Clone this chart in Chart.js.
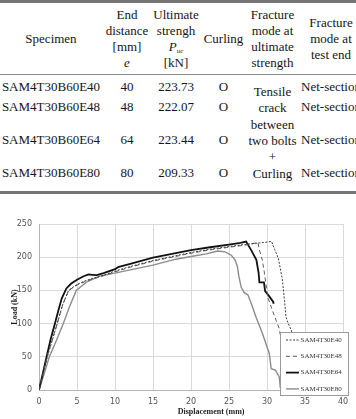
<!DOCTYPE html>
<html><head><meta charset="utf-8">
<script src="https://cdn.jsdelivr.net/npm/chart.js@4.4.1/dist/chart.umd.min.js"></script>
<style>
html,body{margin:0;padding:0;background:#fff;}
#wrap{position:relative;width:356px;height:419px;overflow:hidden;background:#fff;}
.rule{position:absolute;left:0;width:364px;background:#747474;}
table{position:absolute;left:0;top:3px;width:364px;border-collapse:collapse;border-spacing:0;table-layout:fixed;
  font-family:"Liberation Serif","Times New Roman",serif;font-size:13px;color:#161616;}
th,td{padding:0;text-align:center;font-weight:normal;white-space:nowrap;line-height:16px;}
th{vertical-align:middle;}
td{vertical-align:top;}
td.span{vertical-align:middle;line-height:16.4px;}
sub{font-size:7px;line-height:0;vertical-align:-2px;}
canvas{position:absolute;left:0;top:210px;}
</style>
</head><body>
<div id="wrap">
<div class="rule" style="top:0;height:3px;"></div>
<table>
<colgroup><col style="width:102px"><col style="width:50px"><col style="width:48px"><col style="width:47px"><col style="width:51px"><col style="width:66px"></colgroup>
<tr style="height:72px">
<th>Specimen</th>
<th>End<br>distance<br>[mm]<br><i>e</i></th>
<th>Ultimate<br>strengh<br><i>P</i><sub><i>uc</i></sub><br>[kN]</th>
<th>Curling</th>
<th>Fracture<br>mode at<br>ultimate<br>strength</th>
<th>Fracture<br>mode at<br>test end</th>
</tr>
<tr style="height:23px"><td style="padding-top:4px">SAM4T30B60E40</td><td style="padding-top:4px">40</td><td style="padding-top:4px">223.73</td><td style="padding-top:4px">O</td>
<td class="span" rowspan="4">Tensile<br>crack<br>between<br>two bolts<br>+<br>Curling</td><td style="padding-top:4px">Net-section</td></tr>
<tr style="height:20px"><td style="padding-top:1px">SAM4T30B60E48</td><td style="padding-top:1px">48</td><td style="padding-top:1px">222.07</td><td style="padding-top:1px">O</td><td style="padding-top:1px">Net-section</td></tr>
<tr style="height:40px"><td style="padding-top:14px">SAM4T30B60E64</td><td style="padding-top:14px">64</td><td style="padding-top:14px">223.44</td><td style="padding-top:14px">O</td><td style="padding-top:14px">Net-section</td></tr>
<tr style="height:33px"><td style="padding-top:7px">SAM4T30B60E80</td><td style="padding-top:7px">80</td><td style="padding-top:7px">209.33</td><td style="padding-top:7px">O</td><td style="padding-top:7px">Net-section</td></tr>
</table>
<div class="rule" style="top:74px;height:1px;background:#8a8a8a;"></div>
<div class="rule" style="top:191px;height:3px;"></div>
<canvas id="c" width="356" height="209"></canvas>
</div>
<script>
const seriesNames = ['SAM4T30E40', 'SAM4T30E48', 'SAM4T30E64', 'SAM4T30E80'];
const xTicks = [0, 5, 10, 15, 20, 25, 30, 35, 40];
const yTicks = [0, 50, 100, 150, 200, 250];

const e40X = [0, 1.1, 2.4, 3.1, 3.9, 5.0, 6.0, 7.0, 8.5, 10, 12, 15, 17.5, 20, 22.5, 25, 27, 28.5, 29.5, 30.6, 31.0, 31.5, 32.0, 32.3, 32.5, 32.8, 33.2, 33.6];
const e40Y = [0, 50, 100, 128, 150, 159, 164, 168, 173, 179, 186, 195, 201, 207, 212, 216, 219, 221, 222, 223.73, 212, 198, 168, 135, 110, 100, 90, 70];

const e48X = [0, 1.1, 2.4, 3.1, 3.9, 5.0, 6.0, 7.0, 8.5, 10, 12, 15, 17.5, 20, 22.5, 25, 27, 28.0, 28.8, 29.0, 29.4, 29.7, 30.1, 30.7, 31.2, 31.6, 31.8];
const e48Y = [0, 52, 100, 128, 150, 158, 163, 167, 172, 178, 185, 194, 200, 206, 211, 215, 218, 220, 222.07, 211, 195, 173, 140, 120, 105, 93, 80];

const e64X = [0, 0.5, 1.0, 1.5, 2.1, 2.6, 3.0, 3.6, 4.2, 5.0, 5.8, 6.5, 7.0, 7.6, 8.5, 10.0, 10.4, 12, 15, 17.5, 20, 22.5, 25, 26.5, 27.25, 27.9, 28.6, 28.9, 29.0, 29.6, 29.75, 30.3, 30.8, 30.85];
const e64Y = [0, 25, 50, 75, 100, 122, 138, 153, 160, 166, 171, 174, 173.5, 173, 176, 182, 185, 190, 199.5, 205, 210.5, 215, 219, 221.5, 223.44, 211, 196, 176, 162, 162, 149, 141, 133, 130];

const e80X = [0, 0.7, 1.36, 2.3, 3.2, 4.0, 4.9, 6.3, 8.0, 10, 12, 15, 18, 20, 22, 23.5, 24.5, 25.3, 25.8, 26.1, 26.3, 26.6, 27.0, 27.5, 28.0, 28.55, 29.4, 30.3, 30.55, 31.1, 31.6, 31.7, 31.75];
const e80Y = [0, 25, 50, 75, 100, 125, 150, 163, 171.5, 176, 181, 188, 197, 201, 205, 209.33, 208, 203, 196, 186, 171, 155, 146.6, 143, 128, 110, 85, 55, 32, 30, 20, 10, 3];

function pts(xs, ys) { return xs.map((x, i) => ({x: x, y: ys[i]})); }

const styles = [
  {color: '#3a3a3a', width: 1, dash: [2, 1.5]},
  {color: '#5a5a5a', width: 1, dash: [4, 3]},
  {color: '#111111', width: 1.8, dash: []},
  {color: '#8c8c8c', width: 1.4, dash: []}
];
const allData = [pts(e40X, e40Y), pts(e48X, e48Y), pts(e64X, e64Y), pts(e80X, e80Y)];

const datasets = allData.map((d, i) => ({
  label: seriesNames[i], data: d, showLine: true, fill: false,
  borderColor: styles[i].color, borderWidth: styles[i].width, borderDash: styles[i].dash,
  pointRadius: 0, tension: 0
}));

const overlay = {
  id: 'overlay',
  afterDraw(chart) {
    const ctx = chart.ctx, a = chart.chartArea;
    // x-axis title
    ctx.save();
    ctx.font = 'bold 8px "Liberation Serif", serif';
    ctx.fillStyle = '#1e1e1e';
    ctx.textAlign = 'center';
    ctx.textBaseline = 'middle';
    ctx.fillText('Displacement (mm)', a.left + (a.right - a.left) * 0.566, a.bottom + 22);
    ctx.restore();
    // legend box
    const bx = a.right - 63, by = a.bottom - 58, bw = 69, bh = 64;
    ctx.save();
    ctx.fillStyle = '#ffffff';
    ctx.fillRect(bx, by, bw, bh);
    ctx.strokeStyle = '#9a9a9a';
    ctx.lineWidth = 1;
    ctx.strokeRect(bx + 0.5, by + 0.5, bw - 1, bh - 1);
    chart.data.datasets.forEach((ds, i) => {
      const yy = by + 8 + i * 16.3;
      ctx.beginPath();
      ctx.setLineDash(ds.borderDash || []);
      ctx.strokeStyle = ds.borderColor;
      ctx.lineWidth = ds.borderWidth;
      ctx.moveTo(bx + 6, yy);
      ctx.lineTo(bx + 19, yy);
      ctx.stroke();
      ctx.setLineDash([]);
      ctx.font = '7px "Liberation Serif", serif';
      ctx.fillStyle = '#333333';
      ctx.textAlign = 'left';
      ctx.textBaseline = 'middle';
      ctx.fillText(ds.label, bx + 20.5, yy);
    });
    ctx.restore();
  }
};

new Chart(document.getElementById('c'), {
  type: 'scatter',
  data: {datasets: datasets},
  options: {
    responsive: false, animation: false, devicePixelRatio: 1,
    layout: {padding: {top: 14, right: 13, bottom: 0, left: 0}},
    plugins: {legend: {display: false}, tooltip: {enabled: false}},
    scales: {
      x: {
        type: 'linear', min: 0, max: 40,
        afterBuildTicks: s => { s.ticks = xTicks.map(v => ({value: v})); },
        afterFit: s => { s.height = 29; },
        ticks: {font: {family: '"DejaVu Sans", sans-serif', size: 8}, color: '#555555', padding: 7, maxRotation: 0},
        grid: {color: '#d9d9d9', drawTicks: false, lineWidth: 1},
        border: {color: '#b5b5b5'}
      },
      y: {
        type: 'linear', min: 0, max: 250,
        afterBuildTicks: s => { s.ticks = yTicks.map(v => ({value: v})); },
        afterFit: s => { s.width = 39; },
        ticks: {font: {family: '"DejaVu Sans", sans-serif', size: 8}, color: '#555555', padding: 7},
        grid: {color: '#d9d9d9', drawTicks: false, lineWidth: 1},
        border: {color: '#b5b5b5'},
        title: {display: true, text: 'Load (kN)', color: '#1e1e1e', padding: {top: 10, bottom: 0},
          font: {family: '"Liberation Serif", serif', size: 8, weight: 'bold'}}
      }
    }
  },
  plugins: [overlay]
});
</script>
</body></html>
